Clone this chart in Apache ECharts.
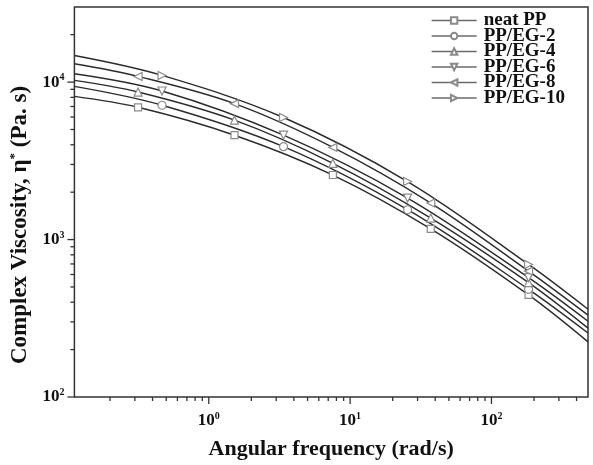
<!DOCTYPE html>
<html>
<head>
<meta charset="utf-8">
<script src="https://cdn.jsdelivr.net/npm/echarts@6/dist/echarts.min.js"></script>
<style>html,body{margin:0;padding:0;background:#fff}#c{width:593px;height:465px}</style>
</head>
<body>
<div id="c"></div>
<script>
// Frequencies (rad/s) at which curves were read; group A: square/up/left markers, group B: circle/down/right
const freqA = [0.112, 0.316, 1.52, 7.55, 37.2, 183, 482];
const freqB = [0.112, 0.467, 3.38, 25.5, 183, 482];
// Complex viscosity (Pa.s)
const neatPP = [8120, 6920, 4600, 2570, 1170, 445, 224];
const ppEG4  = [10250, 8650, 5730, 3050, 1370, 533, 274];
const ppEG8  = [13070, 10870, 7300, 3850, 1705, 630, 331];
const ppEG2  = [9390, 7130, 3890, 1547, 483, 255];
const ppEG6  = [11300, 8780, 4600, 1834, 573, 303];
const ppEG10 = [14750, 11030, 5960, 2335, 695, 361];
const names = ['neat PP', 'PP/EG-2', 'PP/EG-4', 'PP/EG-6', 'PP/EG-8', 'PP/EG-10'];
// axis ranges and ticks
const xMin = 0.112, xMax = 482, yMin = 100, yMax = 30000;
const xMajor = [1, 10, 100];
const xMinor = [0.2,0.3,0.4,0.5,0.6,0.7,0.8,0.9,2,3,4,5,6,7,8,9,20,30,40,50,60,70,80,90,200,300,400];
const yMajor = [100, 1000, 10000];
const yMinor = [200,300,400,500,600,700,800,900,2000,3000,4000,5000,6000,7000,8000,9000,20000];

const FONT = '"Liberation Serif", "DejaVu Serif", serif';
const LINE = '#2b2b2b', MARK = '#8a8a8a';

function mk(freq, vals) {
  return freq.map((f, i) => {
    const d = { value: [f, vals[i]] };
    if (i === 0 || i === freq.length - 1) d.symbol = 'none';
    return d;
  });
}
function line(name, freq, vals, symbol, rot) {
  return {
    name, type: 'line', smooth: 0.35, data: mk(freq, vals),
    symbol, symbolSize: symbol === 'rect' ? 7 : 8, symbolRotate: rot || 0,
    showAllSymbol: true, z: 3,
    lineStyle: { color: LINE, width: 1.4 },
    itemStyle: { color: '#fff', borderColor: MARK, borderWidth: 1.2 },
    color: LINE
  };
}
function tickSeries(data, isX) {
  return {
    type: 'custom', silent: true, clip: false, z: 5,
    data,
    encode: { x: 0, y: 1 },
    renderItem: function (params, api) {
      const p = api.coord([api.value(0), api.value(1)]);
      const len = api.value(2);
      const shape = isX ? { x1: p[0], y1: p[1], x2: p[0], y2: p[1] + len }
                        : { x1: p[0] - len, y1: p[1], x2: p[0], y2: p[1] };
      return { type: 'line', shape, style: { stroke: '#333', lineWidth: 1.3 } };
    }
  };
}
const xTicks = xMajor.map(v => [v, yMin, 7]).concat(xMinor.map(v => [v, yMin, 4]));
const yTicks = yMajor.map(v => [xMin, v, 7]).concat(yMinor.map(v => [xMin, v, 4]));

function powLabel(v) {
  const l = Math.log10(v), e = Math.round(l);
  return Math.abs(l - e) < 1e-6 ? '10{s|' + e + '}' : '';
}
const rich = { s: { fontSize: 10, fontWeight: 'bold', fontFamily: FONT, color: '#111', padding: [0, 0, 9, 0] } };

const chart = echarts.init(document.getElementById('c'), null, { renderer: 'canvas' });
chart.setOption({
  animation: false,
  backgroundColor: '#fff',
  grid: { left: 72, right: 5, top: 7, bottom: 67, show: true, borderColor: '#333', borderWidth: 1.5, backgroundColor: 'transparent' },
  legend: {
    data: names, orient: 'vertical', left: 426, top: 6,
    itemWidth: 45, itemHeight: 8, itemGap: -3.5,
    lineStyle: { color: '#6a6a6a', width: 1.3 },
    textStyle: { fontFamily: FONT, fontWeight: 'bold', fontSize: 19, color: '#111', lineHeight: 18, padding: [0, 0, 0, 2] },
    inactiveColor: '#ccc'
  },
  xAxis: {
    type: 'log', logBase: 10, min: xMin, max: xMax,
    axisLine: { show: false }, axisTick: { show: false }, splitLine: { show: false },
    axisLabel: { formatter: powLabel, rich, fontFamily: FONT, fontWeight: 'bold', fontSize: 17, color: '#111', margin: 14, showMinLabel: false, showMaxLabel: false },
    name: 'Angular frequency (rad/s)', nameLocation: 'middle', nameGap: 41,
    nameTextStyle: { fontFamily: FONT, fontWeight: 'bold', fontSize: 22, color: '#111' }
  },
  yAxis: {
    type: 'log', logBase: 10, min: yMin, max: yMax,
    axisLine: { show: false }, axisTick: { show: false }, splitLine: { show: false },
    axisLabel: { formatter: powLabel, rich, fontFamily: FONT, fontWeight: 'bold', fontSize: 17, color: '#111', margin: 10, showMinLabel: true, showMaxLabel: false },
    name: 'Complex Viscosity, η{s|*} (Pa. s)', nameLocation: 'middle', nameGap: 40, nameRotate: 90,
    nameTextStyle: { fontFamily: FONT, fontWeight: 'bold', fontSize: 23, color: '#111', padding: [0, 46, 0, 0],
      rich: { s: { fontSize: 13, fontWeight: 'bold', fontFamily: FONT, color: '#111', padding: [0, 0, 11, 0] } } }
  },
  series: [
    line('neat PP', freqA, neatPP, 'rect', 0),
    line('PP/EG-2', freqB, ppEG2, 'circle', 0),
    line('PP/EG-4', freqA, ppEG4, 'triangle', 0),
    line('PP/EG-6', freqB, ppEG6, 'triangle', 180),
    line('PP/EG-8', freqA, ppEG8, 'triangle', 90),
    line('PP/EG-10', freqB, ppEG10, 'triangle', -90),
    tickSeries(xTicks, true),
    tickSeries(yTicks, false)
  ]
});
</script>
</body>
</html>
